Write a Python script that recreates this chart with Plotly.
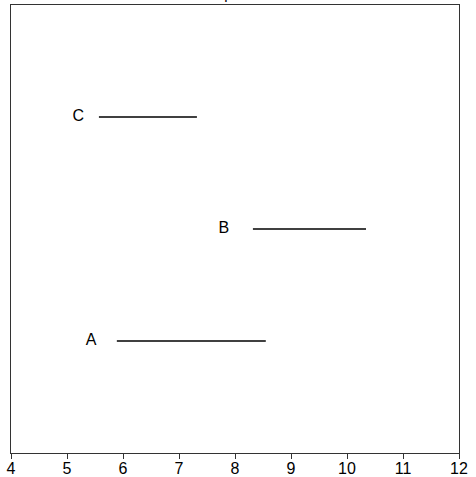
import plotly.graph_objects as go

categories = ["A", "B", "C"]
starts = [5.89, 8.32, 5.57]
ends = [8.55, 10.34, 7.32]
label_x = [5.43, 7.80, 5.20]
x_ticks = [4, 5, 6, 7, 8, 9, 10, 11, 12]

FONT = "Liberation Sans, Arial, sans-serif"

fig = go.Figure()
for i, (c, s, e) in enumerate(zip(categories, starts, ends)):
    fig.add_trace(go.Scatter(x=[s, e], y=[i + 1, i + 1], mode="lines",
                             line=dict(color="black", width=1.3), showlegend=False,
                             hoverinfo="skip"))
fig.add_trace(go.Scatter(x=label_x, y=[i + 1 for i in range(len(categories))],
                         mode="text", text=categories, textposition="middle center",
                         textfont=dict(family=FONT, size=16, color="black"),
                         showlegend=False, hoverinfo="skip"))

fig.add_annotation(text="Group means", xref="paper", yref="paper", x=0.503, y=1,
                   xanchor="center", yanchor="bottom", yshift=1, showarrow=False,
                   font=dict(family=FONT, size=15, color="black"))

fig.update_layout(
    width=476, height=477,
    margin=dict(l=11, r=17, t=5, b=24),
    paper_bgcolor="white", plot_bgcolor="white",
    font=dict(family=FONT, size=15, color="black"),
    xaxis=dict(range=[4, 12], tickvals=x_ticks, ticks="outside", ticklen=5,
               tickcolor="#333", showgrid=False, zeroline=False, automargin=False,
               showline=True, linecolor="#333", linewidth=1, mirror=True,
               ticklabelstandoff=-4,
               tickfont=dict(family=FONT, size=16)),
    yaxis=dict(range=[0, 4], showticklabels=False, showgrid=False, zeroline=False,
               automargin=False,
               showline=True, linecolor="#333", linewidth=1, mirror=True, ticks=""),
)
fig.write_html("out.html", config={"displayModeBar": False},
               post_script="document.body.style.margin='0';document.body.style.padding='0';document.body.style.overflow='hidden';")
